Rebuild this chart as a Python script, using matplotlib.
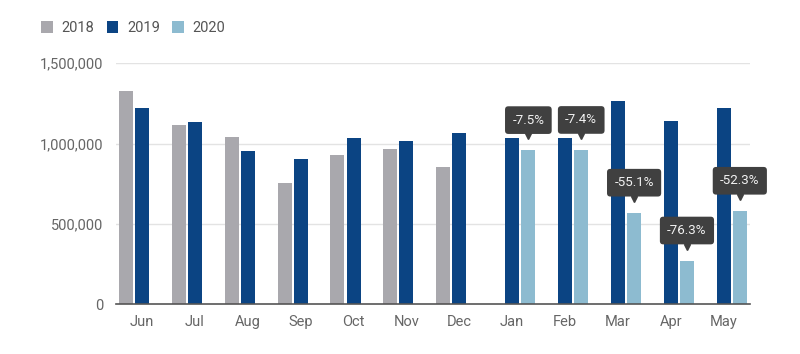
import numpy as np
import matplotlib
matplotlib.use("Agg")
from matplotlib import pyplot as plt
from matplotlib import transforms
from matplotlib.ticker import FuncFormatter

months = ['Jun', 'Jul', 'Aug', 'Sep', 'Oct', 'Nov', 'Dec',
          'Jan', 'Feb', 'Mar', 'Apr', 'May']
nan = np.nan
sales_2018 = [1330000, 1115000, 1042000, 756000, 931000, 965000, 852000,
              nan, nan, nan, nan, nan]
sales_2019 = [1221000, 1135000, 952000, 904000, 1037000, 1017000, 1065000,
              1037000, 1037000, 1267000, 1142000, 1219000]
sales_2020 = [nan, nan, nan, nan, nan, nan, nan,
              959000, 960000, 569000, 271000, 581000]
change_labels = ['-7.5%', '-7.4%', '-55.1%', '-76.3%', '-52.3%']

def main():
    plt.rcParams['font.family'] = ['Roboto', 'DejaVu Sans']
    fig = plt.figure(figsize=(8, 3.54), dpi=100)
    ax = fig.add_axes([0.1446, 0.1412, 0.793, 0.68])

    x = np.arange(len(months))
    slot = 0.306
    width = 0.265
    series = [('2018', sales_2018, '#a9a8ad'),
              ('2019', sales_2019, '#0b4483'),
              ('2020', sales_2020, '#8dbbd0')]
    bars = []
    for i, (name, vals, color) in enumerate(series):
        b = ax.bar(x + (i - 1) * slot, vals, width, color=color, label=name, zorder=2)
        bars.append(b)

    # callouts with percent change on the 2020 bars
    tip = transforms.offset_copy(ax.transData, fig=fig, x=0, y=14, units='dots')
    start = len(months) - len(change_labels)
    for j, lab in enumerate(change_labels):
        k = start + j
        xi = x[k] + slot
        yi = sales_2020[k]
        ax.annotate(lab, xy=(xi, yi), xytext=(0, 30), textcoords='offset pixels',
                    ha='center', va='center', color='#f2f2f2', fontsize=9.6,
                    bbox=dict(boxstyle='round,pad=0.55,rounding_size=0.25',
                              fc='#404040', ec='none'),
                    zorder=5, annotation_clip=False)
        ax.plot([xi], [yi], marker='v', markersize=5, color='#404040',
                transform=tip, zorder=5, clip_on=False)

    ax.set_xlim(-0.5, len(months) - 0.5)
    ax.set_ylim(0, 1500000)
    ax.set_yticks([0, 500000, 1000000, 1500000])
    ax.yaxis.set_major_formatter(FuncFormatter(lambda v, p: f'{int(v):,}'))
    ax.set_xticks(x)
    ax.set_xticklabels(months)
    ax.tick_params(axis='both', length=0, labelsize=10.5, labelcolor='#666666')
    ax.tick_params(axis='y', pad=9)
    ax.tick_params(axis='x', pad=8)

    for v in [500000, 1000000, 1500000]:
        ax.axhline(v, color='#e3e3e3', lw=1, zorder=1)
    for s in ['top', 'right', 'left']:
        ax.spines[s].set_visible(False)
    ax.spines['bottom'].set_color('#555555')
    ax.spines['bottom'].set_linewidth(1.2)
    ax.spines['bottom'].set_zorder(3)

    fig.legend(handles=bars, loc='center left',
               bbox_to_anchor=(41 / 800, 1 - 28 / 354), ncol=3, frameon=False,
               fontsize=10.5, handlelength=0.8, handleheight=0.8,
               handletextpad=0.6, columnspacing=0.85, borderpad=0,
               borderaxespad=0, labelcolor='#555555')

    fig.savefig('out.png', dpi=100)

if __name__ == "__main__":
    main()
